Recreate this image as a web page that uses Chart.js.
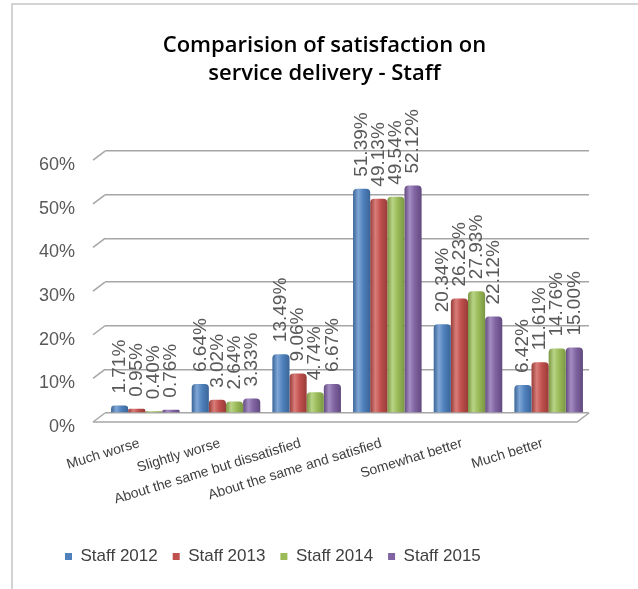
<!DOCTYPE html>
<html>
<head>
<meta charset="utf-8">
<script src="https://cdn.jsdelivr.net/npm/chart.js@4.4.1/dist/chart.umd.min.js"></script>
<style>
  html, body { margin: 0; padding: 0; background: #fff; }
  #wrap { position: relative; width: 638px; height: 589px; overflow: hidden; }
  #frame { position: absolute; left: 11px; top: 3px; width: 700px; height: 700px;
           border-left: 2px solid #d3d3d3; border-top: 2px solid #d3d3d3; }
  #chart { position: absolute; left: 0; top: 0; }
</style>
</head>
<body>
<div id="wrap">
  <div id="frame"></div>
  <canvas id="chart" width="638" height="589"></canvas>
</div>
<script>
const titleLines = ["Comparision of satisfaction on", "service delivery - Staff"];
const categories = ["Much worse", "Slightly worse", "About the same but dissatisfied",
  "About the same and satisfied", "Somewhat better", "Much better"];
const seriesNames = ["Staff 2012", "Staff 2013", "Staff 2014", "Staff 2015"];
const staff2012 = [1.71, 6.64, 13.49, 51.39, 20.34, 6.42];
const staff2013 = [0.95, 3.02, 9.06, 49.13, 26.23, 11.61];
const staff2014 = [0.40, 2.64, 4.74, 49.54, 27.93, 14.76];
const staff2015 = [0.76, 3.33, 6.67, 52.12, 22.12, 15.00];
const yTicks = [0, 10, 20, 30, 40, 50, 60];

const colors = ["#4F81BD", "#C0504D", "#9BBB59", "#8064A2"];
const lightColors = ["#7FA6D6", "#D97D7A", "#B9D486", "#A48DC2"];
const darkColors = ["#3A6597", "#983C39", "#7A9743", "#62497F"];

const seriesValues = [staff2012, staff2013, staff2014, staff2015];

// ---------- 3D-ish floor, side ticks and cylinder shading ----------
const floor3d = {
  id: "floor3d",
  afterLayout(chart) {
    // the picture's title and legend sit a little right of the canvas centre
    chart.titleBlock.left += 11;
    chart.titleBlock.right += 11;
    chart.legend.left += 12;
    chart.legend.right += 12;
  },
  beforeDatasetsDraw(chart) {
    const { ctx, chartArea: a, scales: { y } } = chart;
    ctx.save();
    ctx.strokeStyle = "#a6a6a6";
    ctx.lineWidth = 1.5;
    yTicks.forEach(t => {
      const py = y.getPixelForValue(t);
      ctx.beginPath();
      ctx.moveTo(a.left - 12, py + 9);
      ctx.lineTo(a.left, py);
      ctx.stroke();
    });
    const yb = y.getPixelForValue(0);
    ctx.beginPath();
    ctx.moveTo(a.left - 12, yb + 9);
    ctx.lineTo(a.right - 12, yb + 9);
    ctx.lineTo(a.right, yb);
    ctx.stroke();
    ctx.restore();

    chart.data.datasets.forEach((ds, di) => {
      const meta = chart.getDatasetMeta(di);
      meta.data.forEach(bar => {
        const g = ctx.createLinearGradient(bar.x - bar.width / 2, 0, bar.x + bar.width / 2, 0);
        g.addColorStop(0, darkColors[di]);
        g.addColorStop(0.3, lightColors[di]);
        g.addColorStop(0.6, colors[di]);
        g.addColorStop(1, darkColors[di]);
        bar.options = Object.assign({}, bar.options, { backgroundColor: g });
      });
    });
  },
  afterDatasetsDraw(chart) {
    const { ctx } = chart;
    ctx.save();
    ctx.fillStyle = "#595959";
    ctx.font = "19px 'Liberation Sans', Arial, sans-serif";
    ctx.textAlign = "left";
    ctx.textBaseline = "middle";
    chart.data.datasets.forEach((ds, di) => {
      chart.getDatasetMeta(di).data.forEach((bar, i) => {
        ctx.save();
        ctx.translate(bar.x, bar.y - 12);
        ctx.rotate(-Math.PI / 2);
        ctx.fillText(ds.data[i].toFixed(2) + "%", 0, 0);
        ctx.restore();
      });
    });
    ctx.restore();
  }
};

new Chart(document.getElementById("chart"), {
  type: "bar",
  data: {
    labels: categories,
    datasets: seriesNames.map((name, i) => ({
      label: name,
      data: seriesValues[i],
      backgroundColor: colors[i],
      borderWidth: 0,
      borderRadius: { topLeft: 4, topRight: 4 },
      categoryPercentage: 0.85,
      barPercentage: 1.0
    }))
  },
  options: {
    responsive: false,
    animation: false,
    layout: { padding: { left: 38, right: 49, top: 0, bottom: 14 } },
    plugins: {
      title: {
        display: true,
        text: titleLines,
        color: "#000",
        font: { family: "'Open Sans', sans-serif", size: 22, weight: "600", lineHeight: 1.3 },
        padding: { top: 31, bottom: 63 }
      },
      legend: {
        position: "bottom",
        align: "start",
        labels: {
          boxWidth: 7,
          boxHeight: 7,
          padding: 15,
          color: "#404040",
          font: { family: "'Liberation Sans', Arial, sans-serif", size: 17 }
        }
      },
      tooltip: { enabled: false }
    },
    scales: {
      x: {
        grid: { display: false },
        border: { display: false },
        ticks: {
          color: "#404040",
          autoSkip: false,
          minRotation: 17,
          maxRotation: 17,
          padding: 14,
          labelOffset: -6,
          font: { family: "'Liberation Sans', Arial, sans-serif", size: 14 }
        },
        afterFit: s => { s.height = 120; }
      },
      y: {
        min: 0,
        max: 60,
        border: { display: false },
        grid: { color: "#a6a6a6", lineWidth: 1.5, drawTicks: false },
        ticks: {
          stepSize: 10,
          padding: 30,
          labelOffset: 14,
          color: "#595959",
          font: { family: "'Liberation Sans', Arial, sans-serif", size: 18 },
          callback: v => v + "%"
        },
        afterFit: s => { s.width = 67; }
      }
    }
  },
  plugins: [floor3d]
});
</script>
</body>
</html>
